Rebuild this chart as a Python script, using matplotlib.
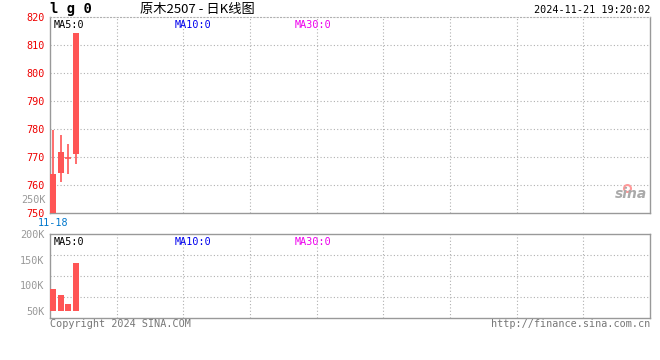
import matplotlib
matplotlib.use("Agg")
import matplotlib.pyplot as plt
from matplotlib.patches import Rectangle

# ---- data ----
dates = ["11-18", "11-19", "11-20", "11-21"]
opens = [750.0, 764.4, 769.5, 771.2]
closes = [764.0, 771.8, 769.5, 814.3]
highs = [779.6, 777.9, 774.8, 814.3]
lows = [750.0, 761.2, 763.9, 767.5]
volumes = [93000, 81000, 63000, 143000]
price_ticks = [750, 760, 770, 780, 790, 800, 810, 820]
vol_tick_vals = [50000, 100000, 150000, 200000]
vol_tick_labels = ["50K", "100K", "150K", "200K"]
title_code = "l g 0"
title_text = "原木2507 - 日K线图"
timestamp = "2024-11-21 19:20:02"

RED = "#ff5555"
GRID = "#b0b0b0"
SPINE = "#999999"
MONO = ["DejaVu Sans Mono"]
FS = 7.3

W, H = 660, 360
fig = plt.figure(figsize=(6.6, 3.6), dpi=100)
fig.patch.set_facecolor("white")

def ax_rect(x0, y0, x1, y1):
    return [x0 / W, 1 - y1 / H, (x1 - x0) / W, (y1 - y0) / H]

nslots = 79
xlim = (-0.4, nslots - 0.4)

# ---- main price panel ----
ax = fig.add_axes(ax_rect(50, 17, 650, 213))
ax.set_xlim(*xlim)
ax.set_ylim(750, 820)
for i, (o, c, h, l) in enumerate(zip(opens, closes, highs, lows)):
    lo, hi = min(o, c), max(o, c)
    ax.vlines(i, l, h, color=RED, lw=1.2, zorder=3)
    if hi - lo < 0.3:
        ax.hlines(o, i - 0.4, i + 0.4, color=RED, lw=1.2, zorder=3)
    else:
        ax.add_patch(Rectangle((i - 0.4, lo), 0.8, hi - lo, facecolor=RED,
                               edgecolor="none", zorder=3))
ax.set_yticks(price_ticks)
ax.set_yticklabels([str(t) for t in price_ticks], color="#ee0000",
                   family=MONO, fontsize=FS)
ax.tick_params(axis="y", length=0, pad=4)
ax.set_xticks([])
for frac in range(1, 9):
    ax.axvline(xlim[0] + (xlim[1] - xlim[0]) * frac / 9, color=GRID, lw=0.8,
               ls=(0, (1, 2)), zorder=1)
for t in price_ticks[1:-1]:
    ax.axhline(t, color=GRID, lw=0.8, ls=(0, (1, 2)), zorder=1)
for s in ["left", "bottom", "right"]:
    ax.spines[s].set_color(SPINE)
    ax.spines[s].set_linewidth(1.0)
ax.spines["top"].set_color(GRID)
ax.spines["top"].set_linestyle((0, (1, 2)))
ax.text(4 / 600, 0.985, "MA5:0", transform=ax.transAxes, color="black",
        family=MONO, fontsize=FS, va="top", ha="left")
ax.text(125 / 600, 0.985, "MA10:0", transform=ax.transAxes, color="#0000ee",
        family=MONO, fontsize=FS, va="top", ha="left")
ax.text(245 / 600, 0.985, "MA30:0", transform=ax.transAxes, color="#ee00ee",
        family=MONO, fontsize=FS, va="top", ha="left")
# date label under first candle
ax.text(0, -0.025, dates[0], transform=ax.get_xaxis_transform(),
        color="#0077cc", family=MONO, fontsize=FS, va="top", ha="center")
# sina logo
ax.text(0.995, 0.06, "sina", transform=ax.transAxes, color="#aaaaaa",
        fontsize=10, fontweight="bold", style="italic", ha="right",
        va="bottom", family=["DejaVu Sans"])
ax.plot([0.962], [0.13], marker="o", ms=5, mfc="none", mec="#ff9999",
        mew=1.5, transform=ax.transAxes)

# ---- volume panel ----
vx = fig.add_axes(ax_rect(50, 234, 650, 318))
vx.set_xlim(*xlim)
vbot = 50000 - (318 - 310.7) / (310.7 - 234) * 150000
vx.set_ylim(vbot, 200000)
base = 50000 - (311 - 310.7) / (310.7 - 234) * 150000
vx.bar(range(len(volumes)), [v - base for v in volumes], bottom=base,
       width=0.8, color=RED, zorder=3)
vx.set_yticks(vol_tick_vals)
vx.set_yticklabels(vol_tick_labels, color="#999999", family=MONO, fontsize=FS)
vx.tick_params(axis="y", length=0, pad=4)
vx.set_xticks([])
for frac in range(1, 9):
    vx.axvline(xlim[0] + (xlim[1] - xlim[0]) * frac / 9, color=GRID, lw=0.8,
               ls=(0, (1, 2)), zorder=1)
for frac in (0.25, 0.5, 0.75):
    vx.axhline(vbot + (200000 - vbot) * frac, color=GRID, lw=0.8,
               ls=(0, (1, 2)), zorder=1)
for s in ["left", "bottom", "right", "top"]:
    vx.spines[s].set_color(SPINE)
    vx.spines[s].set_linewidth(1.0)
vx.text(4 / 600, 0.97, "MA5:0", transform=vx.transAxes, color="black",
        family=MONO, fontsize=FS, va="top", ha="left")
vx.text(125 / 600, 0.97, "MA10:0", transform=vx.transAxes, color="#0000ee",
        family=MONO, fontsize=FS, va="top", ha="left")
vx.text(245 / 600, 0.97, "MA30:0", transform=vx.transAxes, color="#ee00ee",
        family=MONO, fontsize=FS, va="top", ha="left")

# ---- figure texts ----
fig.text(50 / W, 1 - 9 / H, title_code, family=MONO, fontsize=10,
         fontweight="bold", va="center", ha="left")
fig.text(140 / W, 1 - 9 / H, title_text,
         family=["Noto Sans CJK SC", "DejaVu Sans"], fontsize=9.5,
         va="center", ha="left")
fig.text(650 / W, 1 - 10 / H, timestamp, family=MONO, fontsize=FS,
         va="center", ha="right")
fig.text(46 / W, 1 - 200 / H, "250K", family=MONO, fontsize=FS,
         color="#999999", va="center", ha="right")
fig.text(50 / W, 1 - 324 / H, "Copyright 2024 SINA.COM", family=MONO,
         fontsize=FS, color="#777777", va="center", ha="left")
fig.text(650 / W, 1 - 324 / H, "http://finance.sina.com.cn", family=MONO,
         fontsize=FS, color="#777777", va="center", ha="right")

fig.savefig("out.png", dpi=100, facecolor="white")
